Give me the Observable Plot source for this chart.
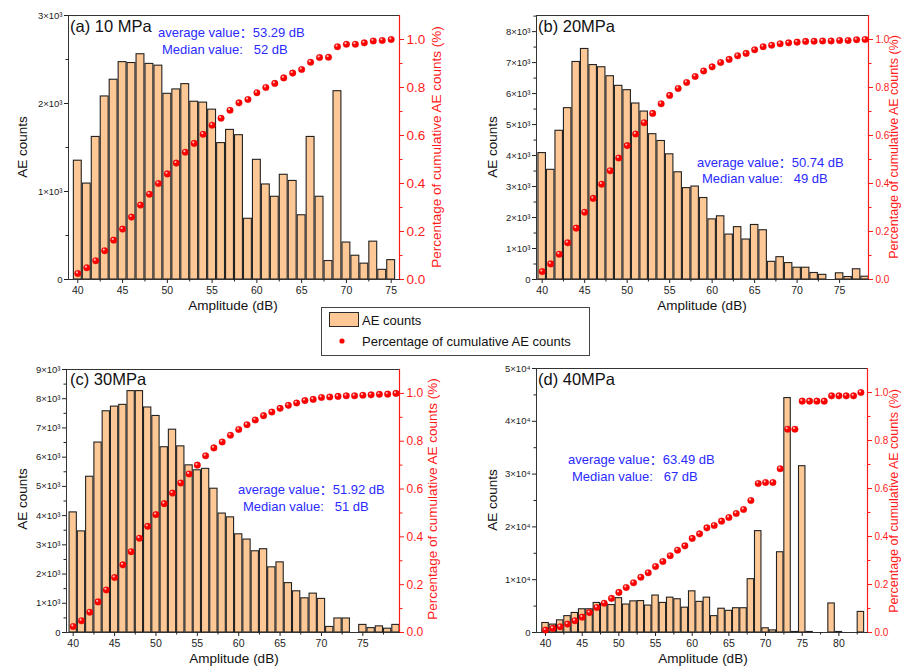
<!DOCTYPE html>
<html><head><meta charset="utf-8">
<script src="https://cdn.jsdelivr.net/npm/d3@7"></script>
<script src="https://cdn.jsdelivr.net/npm/@observablehq/plot@0.6"></script>
<style>
body{margin:0;background:#fff;}
#root{position:relative;width:903px;height:668px;overflow:hidden;font-family:"Liberation Sans",Arial,sans-serif;background:#fff;}
.layer{position:absolute;}
.layer svg{position:absolute;left:0;top:0;}
</style></head><body><div id="root"></div>
<script>
// ---------- data ----------
const ampA = [40,41,42,43,44,45,46,47,48,49,50,51,52,53,54,55,56,57,58,59,60,61,62,63,64,65,66,67,68,69,70,71,72,73,74,75];
const countsA = [1350,1090,1620,2080,2270,2470,2460,2560,2450,2430,2110,2160,2220,2020,2010,1930,1550,1700,1640,690,1360,1080,940,1190,1120,730,1620,940,210,2140,420,270,180,430,110,220];
const cumA = [0.025,0.049,0.078,0.12,0.164,0.21,0.26,0.31,0.355,0.40,0.44,0.485,0.53,0.567,0.605,0.643,0.672,0.705,0.736,0.75,0.778,0.80,0.817,0.84,0.86,0.875,0.905,0.925,0.926,0.97,0.98,0.98,0.986,0.994,0.996,1.0];

const ampB = [40,41,42,43,44,45,46,47,48,49,50,51,52,53,54,55,56,57,58,59,60,61,62,63,64,65,66,67,68,69,70,71,72,73,74,75,76,77,78];
const countsB = [4080,3540,4800,5530,7020,7440,6920,6850,6560,6250,6110,5680,5420,4690,4470,4040,3460,2950,3000,2630,1940,2040,1450,1690,1290,1760,1590,570,720,530,380,380,210,150,0,200,80,330,90];
const cumB = [0.033,0.065,0.105,0.153,0.214,0.28,0.338,0.397,0.453,0.506,0.558,0.606,0.653,0.692,0.732,0.767,0.796,0.821,0.846,0.869,0.886,0.904,0.917,0.932,0.942,0.957,0.97,0.976,0.982,0.986,0.989,0.992,0.993,0.994,0.994,0.996,0.996,0.999,1.0];

const ampC = [40,41,42,43,44,45,46,47,48,49,50,51,52,53,54,55,56,57,58,59,60,61,62,63,64,65,66,67,68,69,70,71,72,73,74,75,76,77,78,79];
const countsC = [4110,3460,5330,6500,7570,7730,7790,8260,8260,7700,7410,6340,6940,6370,5720,5550,5600,4920,4070,3940,3360,3180,2780,2850,2230,2400,1690,1410,1170,1330,1150,190,480,480,0,260,150,210,130,260];
const cumC = [0.025,0.049,0.085,0.128,0.178,0.23,0.283,0.338,0.394,0.444,0.493,0.539,0.583,0.625,0.663,0.70,0.739,0.772,0.797,0.825,0.849,0.869,0.889,0.907,0.922,0.9375,0.95,0.96,0.97,0.975,0.983,0.985,0.9875,0.99,0.99,0.992,0.994,0.996,0.997,1.0];

const ampD = [40,41,42,43,44,45,46,47,48,49,50,51,52,53,54,55,56,57,58,59,60,61,62,63,64,65,66,67,68,69,70,71,72,73,74,75,76,77,78,79,80,81,82,83];
const countsD = [1800,1500,2300,3100,3700,4400,4400,5600,5400,5200,6500,5300,5900,5950,5100,7000,5600,6600,6300,4700,7800,5800,6600,3100,4500,4100,4600,4600,10100,19200,800,400,15200,44400,100,31500,100,0,0,5500,100,0,0,3900];
const cumD = [0.01,0.017,0.024,0.035,0.049,0.064,0.083,0.104,0.122,0.142,0.167,0.1875,0.207,0.23,0.249,0.275,0.296,0.32,0.343,0.361,0.392,0.411,0.436,0.446,0.464,0.479,0.496,0.5125,0.55,0.621,0.625,0.625,0.682,0.847,0.847,0.964,0.964,0.964,0.964,0.986,0.986,0.986,0.986,1.0];

const xTicks75 = [40,45,50,55,60,65,70,75];
const xMinor75 = [42.5,47.5,52.5,57.5,62.5,67.5,72.5];
const xMinor79 = [42.5,47.5,52.5,57.5,62.5,67.5,72.5,77.5];
const xTicks80 = [40,45,50,55,60,65,70,75,80];
const xMinor80 = [42.5,47.5,52.5,57.5,62.5,67.5,72.5,77.5,82.5];

const yTicksA = [0,1000,2000,3000];
const yMinorA = [500,1500,2500];
const yTicksB = [0,1000,2000,3000,4000,5000,6000,7000,8000];
const yMinorB = [500,1500,2500,3500,4500,5500,6500,7500,8500];
const yTicksC = [0,1000,2000,3000,4000,5000,6000,7000,8000,9000];
const yMinorC = [500,1500,2500,3500,4500,5500,6500,7500,8500];
const yTicksD = [0,10000,20000,30000,40000,50000];
const yMinorD = [5000,15000,25000,35000,45000];

const rightTicks = [0,0.2,0.4,0.6,0.8,1.0];
const rightMinor = [0.1,0.3,0.5,0.7,0.9];

const titles = ["(a) 10 MPa","(b) 20MPa","(c) 30MPa","(d) 40MPa"];
const avgTexts = ["average value\uFF1A53.29 dB","average value\uFF1A50.74 dB","average value\uFF1A51.92 dB","average value\uFF1A63.49 dB"];
const medTexts = ["Median value:   52 dB","Median value:   49 dB","Median value:   51 dB","Median value:   67 dB"];
const yLabel = "AE counts";
const xLabel = "Amplitude (dB)";
const rLabel = "Percentage of cumulative AE counts (%)";
const legendBar = "AE counts";
const legendDot = "Percentage of cumulative AE counts";

// ---------- styling ----------
const FONT = '"Liberation Sans", Arial, "Noto Sans CJK SC", sans-serif';
const PEACH = "#fdc896";
const RED = "#ff1a1a";
const BLUE = "#2b2bff";

const fmt3 = d => d === 0 ? "0" : `${d/1000}\u00D710\u00B3`;
const fmt4 = d => d === 0 ? "0" : `${d/10000}\u00D710\u2074`;

const panels = [
  {amps:ampA, counts:countsA, cum:cumA, left:0, top:0, w:450, h:320, ml:68, mr:51, mt:15, mb:41,
   xd:[38.96,75.93], yMax:3000, xt:xTicks75, xm:xMinor75, yt:yTicksA, ym:yMinorA, fmt:fmt3, rf:13.5},
  {amps:ampB, counts:countsB, cum:cumB, left:450, top:0, w:453, h:320, ml:86, mr:35, mt:15, mb:41,
   xd:[39.33,78.4], yMax:8520, xt:xTicks75, xm:xMinor75, yt:yTicksB, ym:yMinorB, fmt:fmt3, rf:10},
  {amps:ampC, counts:countsC, cum:cumC, left:0, top:355, w:450, h:313, ml:66, mr:51, mt:14, mb:36,
   xd:[39.19,79.43], yMax:9000, xt:xTicks75, xm:xMinor79, yt:yTicksC, ym:yMinorC, fmt:fmt3, rf:12},
  {amps:ampD, counts:countsD, cum:cumD, left:450, top:355, w:453, h:313, ml:86, mr:36, mt:13, mb:36,
   xd:[38.77,83.9], yMax:50000, xt:xTicks80, xm:xMinor80, yt:yTicksD, ym:yMinorD, fmt:fmt4, rf:10}
];

const root = document.getElementById("root");

panels.forEach(p => {
  const data = p.amps.map((a, i) => ({a, v: p.counts[i], c: p.cum[i]}));
  const bars = data.filter(d => d.v > 0);
  const common = {
    width: p.w, height: p.h,
    marginLeft: p.ml, marginRight: p.mr, marginTop: p.mt, marginBottom: p.mb,
    style: {background: "transparent", fontFamily: FONT, overflow: "visible", color: "#222"}
  };
  const barPlot = Plot.plot({
    ...common,
    x: {domain: p.xd},
    y: {domain: [0, p.yMax]},
    marks: [
      Plot.rectY(bars, {x1: d => d.a - 0.44, x2: d => d.a + 0.44, y: "v", fill: PEACH, stroke: "#222", strokeWidth: 1.1, clip: true}),
      Plot.frame({stroke: "#333", strokeWidth: 1}),
      Plot.axisX({ticks: p.xt, tickSize: 4, tickPadding: 3, fontSize: 10.5, label: null, tickFormat: d => String(d)}),
      Plot.axisX({ticks: p.xm, tickSize: 2.5, tickFormat: () => "", label: null}),
      Plot.axisY({ticks: p.yt, tickSize: 4, tickPadding: 2, fontSize: 9.5, label: null, tickFormat: p.fmt}),
      Plot.axisY({ticks: p.ym, tickSize: 2.5, tickFormat: () => "", label: null})
    ]
  });
  const dotPlot = Plot.plot({
    ...common,
    x: {domain: p.xd, axis: null},
    y: {domain: [0, 1.1]},
    marks: [
      Plot.ruleX([p.xd[1]], {stroke: RED, strokeWidth: 1.2}),
      Plot.axisY({anchor: "right", ticks: rightTicks, tickSize: 4, tickPadding: 3, fontSize: p.rf, color: RED, label: null, tickFormat: d3.format(".1f")}),
      Plot.axisY({anchor: "right", ticks: rightMinor, tickSize: 2.5, color: RED, label: null, tickFormat: () => ""}),
      Plot.dot(data, {x: "a", y: "c", r: 3.3, fill: "#f00", stroke: "#c00", strokeWidth: 0.3}),
      Plot.dot(data, {x: "a", y: "c", r: 1.1, fill: "#ffb8b8", dx: -0.9, dy: -1.1})
    ]
  });
  const div = document.createElement("div");
  div.className = "layer";
  div.style.left = p.left + "px";
  div.style.top = p.top + "px";
  div.style.width = p.w + "px";
  div.style.height = p.h + "px";
  div.appendChild(barPlot);
  div.appendChild(dotPlot);
  root.appendChild(div);
});

// ---------- text overlay ----------
const svg = d3.select(root).append("svg")
  .attr("width", 903).attr("height", 668)
  .style("position", "absolute").style("left", 0).style("top", 0)
  .style("font-family", FONT);

const titlePos = [[70,32],[538,32],[70,385],[538,385]];
const avgPos = [[158,37],[697,167],[238,494],[568,464]];
const medPos = [[162,54],[702,183],[243,511],[572,481]];
const yLabPos = [[22,147],[492,147],[22,499],[492,500]];
const xLabPos = [[233,310],[702,310],[234,663],[703,663]];
const rLabPos = [[436,147],[894,147],[432,499],[894,501]];
const rLabSize = [13.5,12.5,13.5,12.5];

titles.forEach((t, i) => {
  svg.append("text").attr("x", titlePos[i][0]).attr("y", titlePos[i][1])
    .attr("font-size", 16.5).attr("fill", "#111").text(t);
  svg.append("text").attr("x", avgPos[i][0]).attr("y", avgPos[i][1])
    .attr("font-size", 13).attr("fill", BLUE).style("white-space", "pre").text(avgTexts[i]);
  svg.append("text").attr("x", medPos[i][0]).attr("y", medPos[i][1])
    .attr("font-size", 13).attr("fill", BLUE).attr("xml:space", "preserve").style("white-space", "pre").text(medTexts[i]);
  svg.append("text").attr("transform", `translate(${yLabPos[i][0]},${yLabPos[i][1]}) rotate(-90)`)
    .attr("text-anchor", "middle").attr("dominant-baseline", "central")
    .attr("font-size", 13.5).attr("fill", "#111").text(yLabel);
  svg.append("text").attr("x", xLabPos[i][0]).attr("y", xLabPos[i][1])
    .attr("text-anchor", "middle").attr("font-size", 13.5).attr("fill", "#111").text(xLabel);
  svg.append("text").attr("transform", `translate(${rLabPos[i][0]},${rLabPos[i][1]}) rotate(-90)`)
    .attr("text-anchor", "middle").attr("dominant-baseline", "central")
    .attr("font-size", rLabSize[i]).attr("fill", RED).text(rLabel);
});

// legend
svg.append("rect").attr("x", 321.5).attr("y", 307.5).attr("width", 268).attr("height", 48)
  .attr("fill", "#fff").attr("stroke", "#444").attr("stroke-width", 1);
svg.append("rect").attr("x", 329.5).attr("y", 312.5).attr("width", 29).attr("height", 14)
  .attr("fill", PEACH).attr("stroke", "#2a2a2a").attr("stroke-width", 1);
svg.append("text").attr("x", 362).attr("y", 325).attr("font-size", 13).attr("fill", "#111").text(legendBar);
svg.append("circle").attr("cx", 342).attr("cy", 341).attr("r", 2.6).attr("fill", "#f00");
svg.append("text").attr("x", 362).attr("y", 346).attr("font-size", 13).attr("fill", "#111").text(legendDot);
</script>
</body></html>
